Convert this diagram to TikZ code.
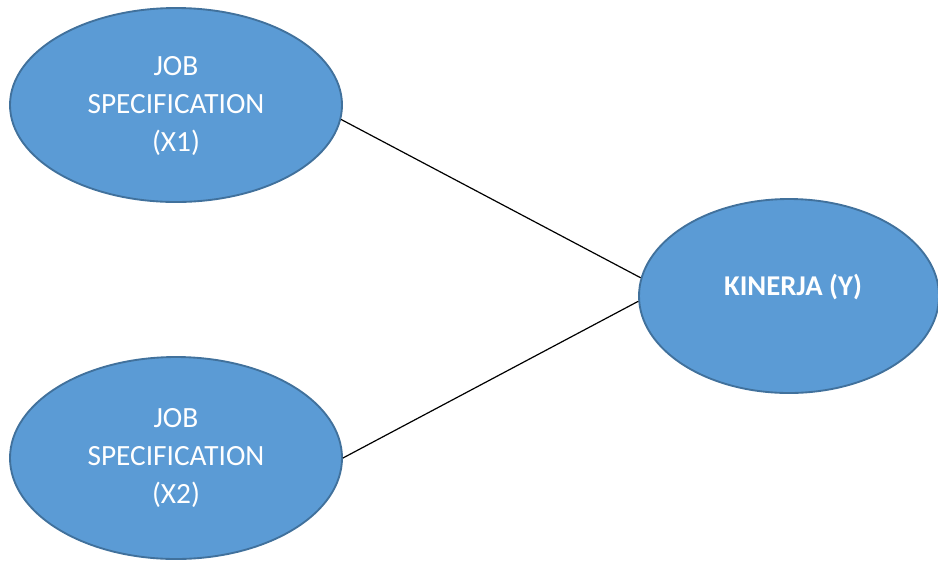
\documentclass[tikz,border=0pt]{standalone}
\usepackage{fontspec}
\setmainfont{Carlito}
\usetikzlibrary{shapes.geometric}

\begin{document}
\begin{tikzpicture}[x=0.75pt,y=0.75pt,yscale=-1,xscale=1]
        \tikzset{
          blob/.style={ellipse, draw={rgb, 255:red, 65; green, 113; blue, 156}, line width=1.4pt,
            fill={rgb, 255:red, 91; green, 155; blue, 213}, inner sep=0pt},
          blobtext/.style={text=white, align=center, inner sep=0.75pt, font=\fontsize{22}{28.5}\selectfont},
        }
        \useasboundingbox (0,0) rectangle (938,562);
        
        %Shape: Ellipse [id:x1] 
        \node [blob, minimum width=249pt, minimum height=145.5pt] (x1) at (176,105) {};
        %Shape: Ellipse [id:x2] 
        \node [blob, minimum width=249pt, minimum height=151.5pt] (x2) at (176,458) {};
        %Shape: Ellipse [id:y] 
        \node [blob, minimum width=225pt, minimum height=145.5pt] (y) at (789,296) {};
        
        %Straight Lines
        \draw [line width=0.9]  (x1.-5) -- (y.173) ;
        %Straight Lines
        \draw [line width=0.9]  (x2.0) -- (y.182) ;
        
        % Text Node
        \node [blobtext] (x1text) at (176,106) {JOB\\SPECIFICATION\\(X1)};
        % Text Node
        \node [blobtext] (x2text) at (176,458) {JOB\\SPECIFICATION\\(X2)};
        % Text Node
        \node [blobtext, font=\fontsize{21.5}{25}\selectfont\bfseries] (ytext) at (793,287) {KINERJA (Y)};
        
\end{tikzpicture}
\end{document}
